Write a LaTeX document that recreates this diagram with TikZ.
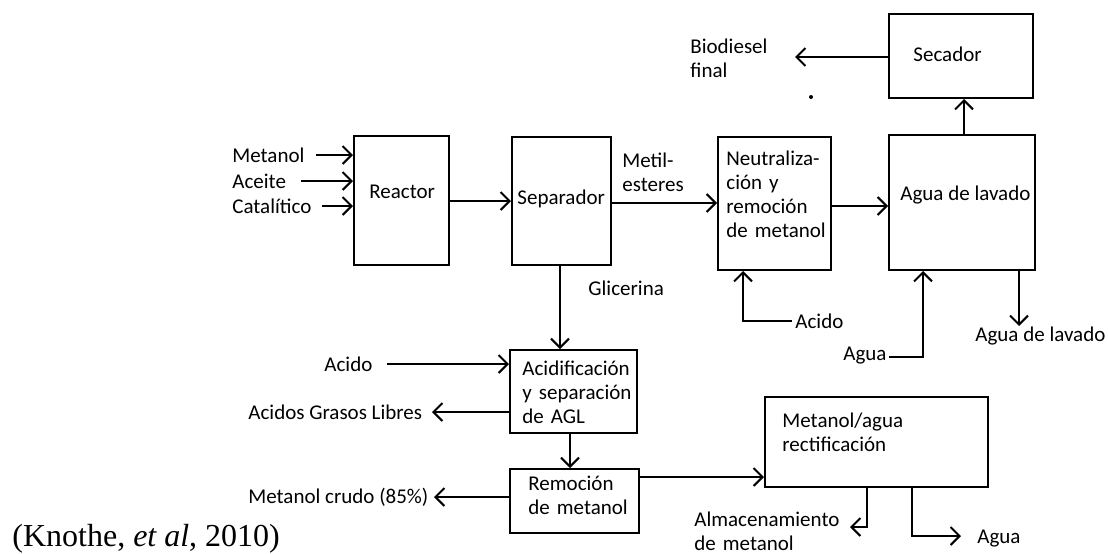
\documentclass[tikz,border=0pt]{standalone}
\usepackage{fontspec}
\setmainfont{Carlito}
\newfontfamily\refserif{Liberation Serif}
\usetikzlibrary{arrows.meta,fit}
\tikzset{
 box/.style={draw, line width=1pt, inner sep=0pt},
 lbl/.style={anchor=base west, inner sep=0pt, font=\fontsize{10.5}{12}\selectfont},
 mlbl/.style={lbl, align=left, text width=#1},
 arr/.style={line width=1pt, -{Straight Barb[length=4.5pt,width=9pt,line width=1pt]}},
}
\begin{document}
\begin{tikzpicture}[x=0.5pt,y=-0.5pt]
\useasboundingbox (0,0) rectangle (1108,553);

% boxes
\node[box, fit={(354,136) (449,265)}] (reactor) {};
\node[box, fit={(512,137) (611,265)}] (separador) {};
\node[box, fit={(718,137) (831,270)}] (neutral) {};
\node[box, fit={(889,135) (1035,270)}] (lavado) {};
\node[box, fit={(889,14) (1033,98)}] (secador) {};
\node[box, fit={(510,350) (637,433)}] (acidif) {};
\node[box, fit={(510,469) (639,533)}] (remocion) {};
\node[box, fit={(765,397) (988,487)}] (rectif) {};

% box texts
\node[lbl] (tReactor) at (369,198) {Reactor};
\node[lbl] (tSeparador) at (517,204) {Separador};
\node[mlbl=70pt] (tNeutral) at (726,165) {Neutraliza-\\ción y\\remoción\\de metanol};
\node[lbl] (tLavado) at (900,200) {Agua de lavado};
\node[lbl] (tSecador) at (913,61) {Secador};
\node[mlbl=70pt] (tAcidif) at (522,375) {Acidificación\\y separación\\de AGL};
\node[mlbl=70pt] (tRemocion) at (528,490) {Remoción\\de metanol};
\node[mlbl=90pt] (tRectif) at (782,427) {Metanol/agua\\rectificación};

% stream labels
\node[lbl] (lMetanol) at (232,162) {Metanol};
\node[lbl] (lAceite) at (232,188) {Aceite};
\node[lbl] (lCatal) at (232,213) {Catalítico};
\node[mlbl=50pt] (lMetil) at (622,167) {Metil-\\esteres};
\node[mlbl=50pt] (lBio) at (690,53) {Biodiesel\\final};
\node[lbl] (lGlic) at (588,295) {Glicerina};
\node[lbl] (lAcido) at (324,371) {Acido};
\node[lbl] (lAGL) at (248,419) {Acidos Grasos Libres};
\node[lbl] (lMcrudo) at (248,503) {Metanol crudo (85\%)};
\node[lbl] (lAcido2) at (795,328) {Acido};
\node[lbl] (lAgua) at (843,360) {Agua};
\node[lbl] (lLavOut) at (975,341) {Agua de lavado};
\node[mlbl=80pt] (lAlm) at (694,526) {Almacenamiento\\de metanol};
\node[lbl] (lAgua2) at (977,543) {Agua};
\node[anchor=base west, inner sep=0pt, font=\refserif\fontsize{16}{19}\selectfont] (cite) at (12,546) {(Knothe, \textit{et al}, 2010)};

% free ends
\coordinate (inMet) at (316,155);
\coordinate (inAce) at (301,181);
\coordinate (inCat) at (322,206);
\coordinate (outBio) at (795,57);
\coordinate (inAcido) at (387,364);
\coordinate (outAGL) at (432,412);
\coordinate (outMcr) at (434,497);
\coordinate (inAcido2) at (792,321);
\coordinate (inAgua) at (889,357);
\coordinate (outLav) at (1019,326);
\coordinate (outAlm) at (850,527);
\coordinate (outAgua) at (961,536);

% connectors
\draw[arr] (inMet) -- (inMet -| reactor.west);
\draw[arr] (inAce) -- (inAce -| reactor.west);
\draw[arr] (inCat) -- (inCat -| reactor.west);
\draw[arr] (reactor.east |- 0,201) -- (separador.west |- 0,201);
\draw[arr] (separador.east |- 0,203) -- (neutral.west |- 0,203);
\draw[arr] (neutral.east |- 0,206) -- (lavado.west |- 0,206);
\draw[arr] (lavado.north -| 964,0) -- (secador.south -| 964,0);
\draw[arr] (secador.west |- outBio) -- (outBio);
\draw[arr] (separador.south -| 560,0) -- (acidif.north -| 560,0);
\draw[arr] (inAcido) -- (inAcido -| acidif.west);
\draw[arr] (acidif.west |- outAGL) -- (outAGL);
\draw[arr] (acidif.south -| 570,0) -- (remocion.north -| 570,0);
\draw[arr] (remocion.west |- outMcr) -- (outMcr);
\draw[arr] (remocion.east |- 0,477) -- (rectif.west |- 0,477);
\draw[arr] (inAcido2) -| (neutral.south -| 743,0);
\draw[arr] (inAgua) -| (lavado.south -| 923,0);
\draw[arr] (lavado.south -| outLav) -- (outLav);
\draw[arr] (rectif.south -| 867,0) |- (outAlm);
\draw[arr] (rectif.south -| 912,0) |- (outAgua);

% stray dot
\fill (811,97) circle (1pt);
\end{tikzpicture}
\end{document}
